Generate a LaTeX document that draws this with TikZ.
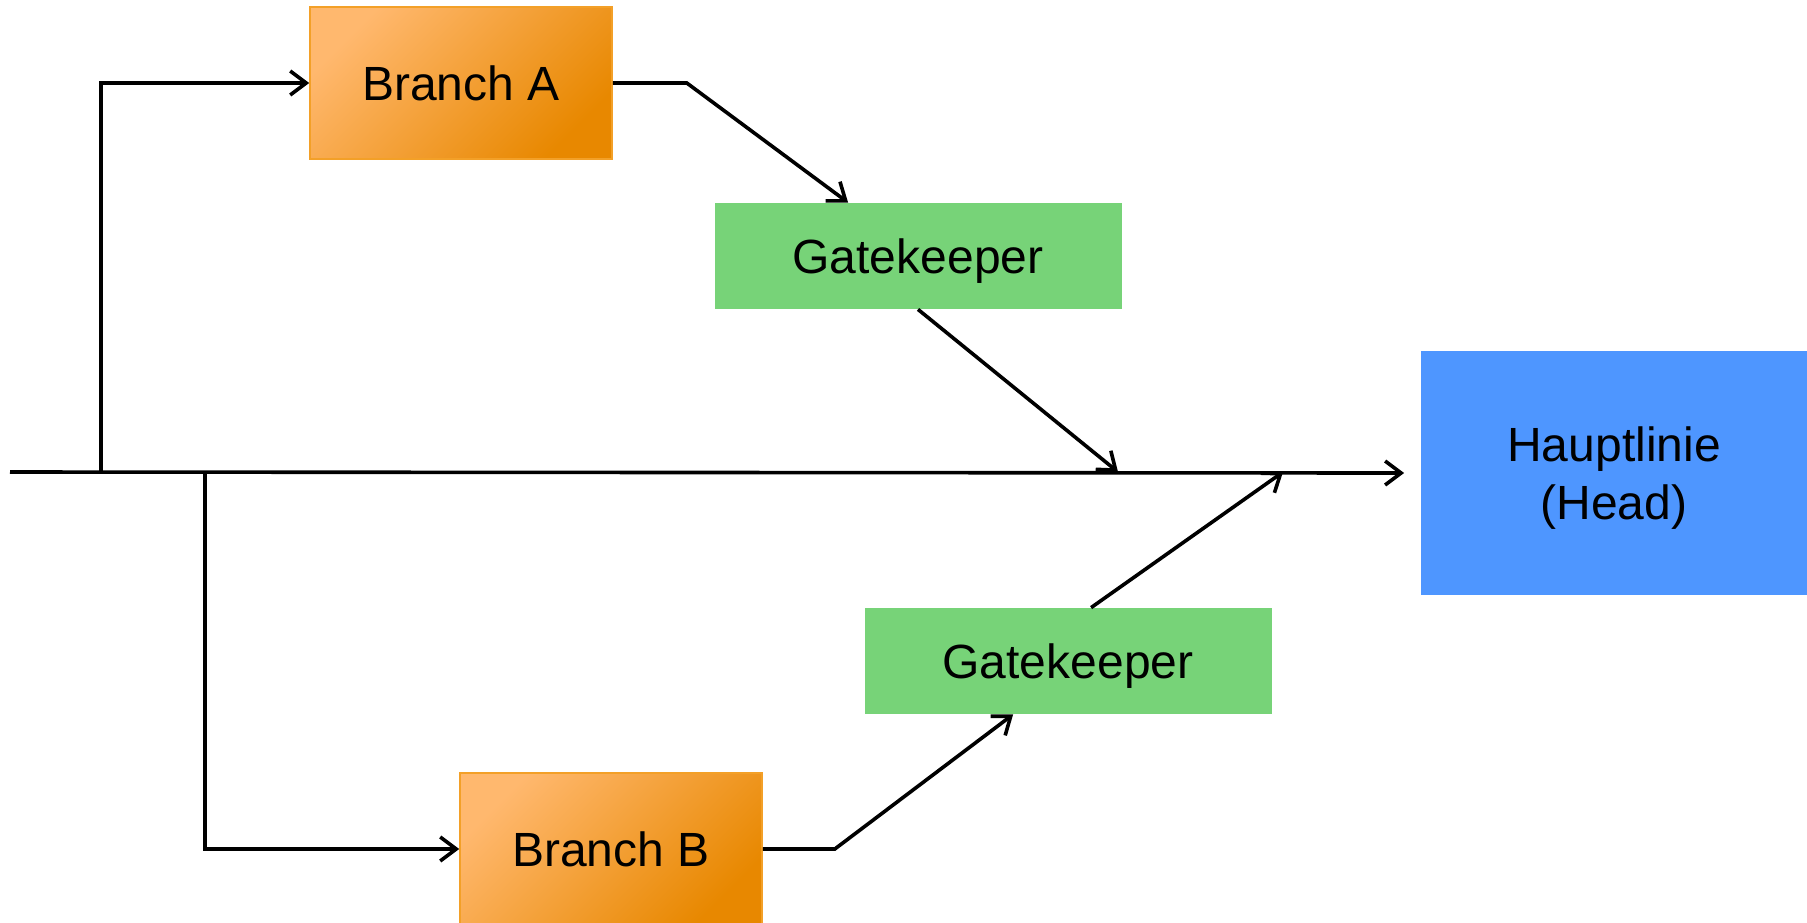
\documentclass[tikz,border=0pt]{standalone}
\usepackage{fontspec}
\setmainfont{Liberation Sans}
\usepackage{tikz}
\usetikzlibrary{calc,arrows.meta}
\definecolor{orangeL}{RGB}{255,184,110}
\definecolor{orangeD}{RGB}{232,136,0}
\definecolor{orangeB}{RGB}{243,160,40}
\definecolor{gkgreen}{RGB}{119,211,120}
\definecolor{headblue}{RGB}{78,150,255}

\begin{document}
\begin{tikzpicture}[x=0.5pt,y=-0.5pt,
    every node/.style={font=\fontsize{24}{29}\selectfont,inner sep=0pt},
    branch/.style={draw=orangeB,line width=0.8pt,top color=orangeL,bottom color=orangeD,shading angle=45,minimum width=151pt,minimum height=76pt},
    gate/.style={fill=gkgreen,minimum width=203.5pt,minimum height=53pt,text depth=0pt},
    head/.style={fill=headblue,minimum width=193.5pt,minimum height=122pt,align=center,text depth=0pt},
    arr/.style={-{Straight Barb[length=8pt,width=12pt]},line width=1.8pt}]

            % page size of the reference
            \clip (0,0) rectangle (1807,922);

            % the boxes
            \node[branch] (brA) at (461,83) {Branch A};
            \node[gate] (gk1) at (918,256) {Gatekeeper};
            \node[head] (head) at (1614,473) {Hauptlinie\\(Head)};
            \node[gate] (gk2) at (1068,661) {Gatekeeper};
            \node[branch] (brB) at (611,849) {Branch B};

            % points on the main line
            \coordinate (start) at (10,472);
            \coordinate (splitA) at (101,472);
            \coordinate (splitB) at (205,472);
            \coordinate (mergeA) at (1118,472);
            \coordinate (mergeB) at (1283,472);

            \draw[arr] (start) -- ([xshift=-8pt]head.west);
            \draw[arr] (splitA) |- (brA.west);
            \draw[arr] (splitB) |- (brB.west);

            \draw[arr] (brA.east) -- ++(74,0) -- ($(gk1.north west)+(134,0)$);
            \draw[arr] (gk1.south) -- (mergeA);

            \draw[arr] (brB.east) -- ++(72,0) -- ($(gk2.south west)+(149,0)$);
            \draw[arr] ($(gk2.north west)+(227,0)$) -- (mergeB);

\end{tikzpicture}
\end{document}
